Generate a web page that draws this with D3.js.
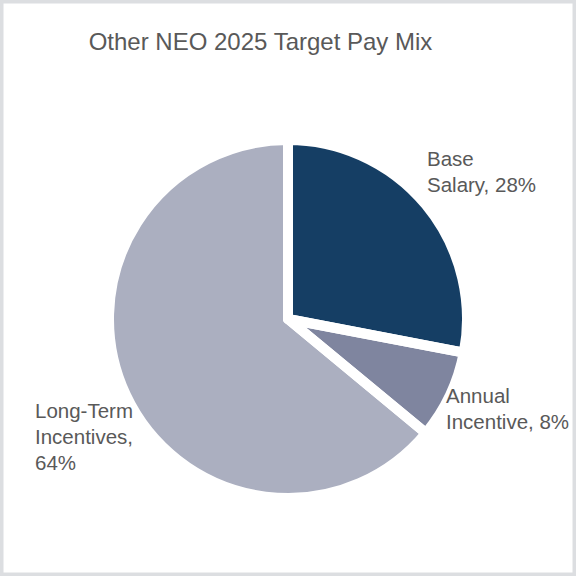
<!DOCTYPE html>
<html lang="en">
<head>
  <meta charset="UTF-8">
  <title>Other NEO 2025 Target Pay Mix</title>
  <style>
    html, body {
      margin: 0;
      padding: 0;
      background: #fff;
    }
    .chart text {
      font-family: "Liberation Sans", Arial, sans-serif;
      fill: #595959;
    }
  </style>
</head>
<body>
<svg class="chart"></svg>

<script src="https://cdn.jsdelivr.net/npm/d3@7"></script>
<script>
  // Chart data
  const categories = ['Base Salary', 'Annual Incentive', 'Long-Term Incentives'];
  const values = [28, 8, 64];
  const colors = ['#153e64', '#7f859f', '#abafc0'];
  const labelLines = [
    ['Base', 'Salary, 28%'],
    ['Annual', 'Incentive, 8%'],
    ['Long-Term', 'Incentives,', '64%']
  ];

  const width = 576;
  const height = 576;
  const cx = 288, cy = 319;
  const radius = 179;   // white stroke trims 5px off every edge
  const gap = 10;

  const svg = d3.select('.chart')
    .attr('width', width)
    .attr('height', height);

  // outer frame
  svg.append('rect')
    .attr('x', 1.75)
    .attr('y', 1.75)
    .attr('width', width - 3.5)
    .attr('height', height - 3.5)
    .attr('fill', '#fff')
    .attr('stroke', '#dcdee1')
    .attr('stroke-width', 3.5);

  // title
  svg.append('text')
    .attr('x', 260.5)
    .attr('y', 50)
    .attr('text-anchor', 'middle')
    .style('font-size', '24px')
    .text('Other NEO 2025 Target Pay Mix');

  const data = categories.map((c, i) => ({ name: c, value: values[i], color: colors[i], lines: labelLines[i] }));

  const pie = d3.pie()
    .value(d => d.value)
    .sort(null);

  const arc = d3.arc()
    .innerRadius(0)
    .outerRadius(radius);

  const arcs = pie(data);

  const g = svg.append('g')
    .attr('transform', `translate(${cx},${cy})`);

  // fills first, then white strokes so the gaps stay even
  g.selectAll('path.slice')
    .data(arcs)
    .enter().append('path')
    .attr('class', 'slice')
    .attr('d', arc)
    .attr('fill', d => d.data.color);

  g.selectAll('path.edge')
    .data(arcs)
    .enter().append('path')
    .attr('class', 'edge')
    .attr('d', arc)
    .attr('fill', 'none')
    .attr('stroke', '#fff')
    .attr('stroke-width', gap)
    .attr('stroke-linejoin', 'round');

  // data labels (positioned beside each slice like the original)
  const labelPos = [
    { x: 427, y: 166 },
    { x: 446, y: 403 },
    { x: 35, y: 418 }
  ];

  data.forEach((d, i) => {
    const t = svg.append('text')
      .attr('x', labelPos[i].x)
      .attr('y', labelPos[i].y)
      .style('font-size', '20.5px');
    d.lines.forEach((line, j) => {
      t.append('tspan')
        .attr('x', labelPos[i].x)
        .attr('dy', j === 0 ? 0 : 26)
        .text(line);
    });
  });
</script>
</body>
</html>
